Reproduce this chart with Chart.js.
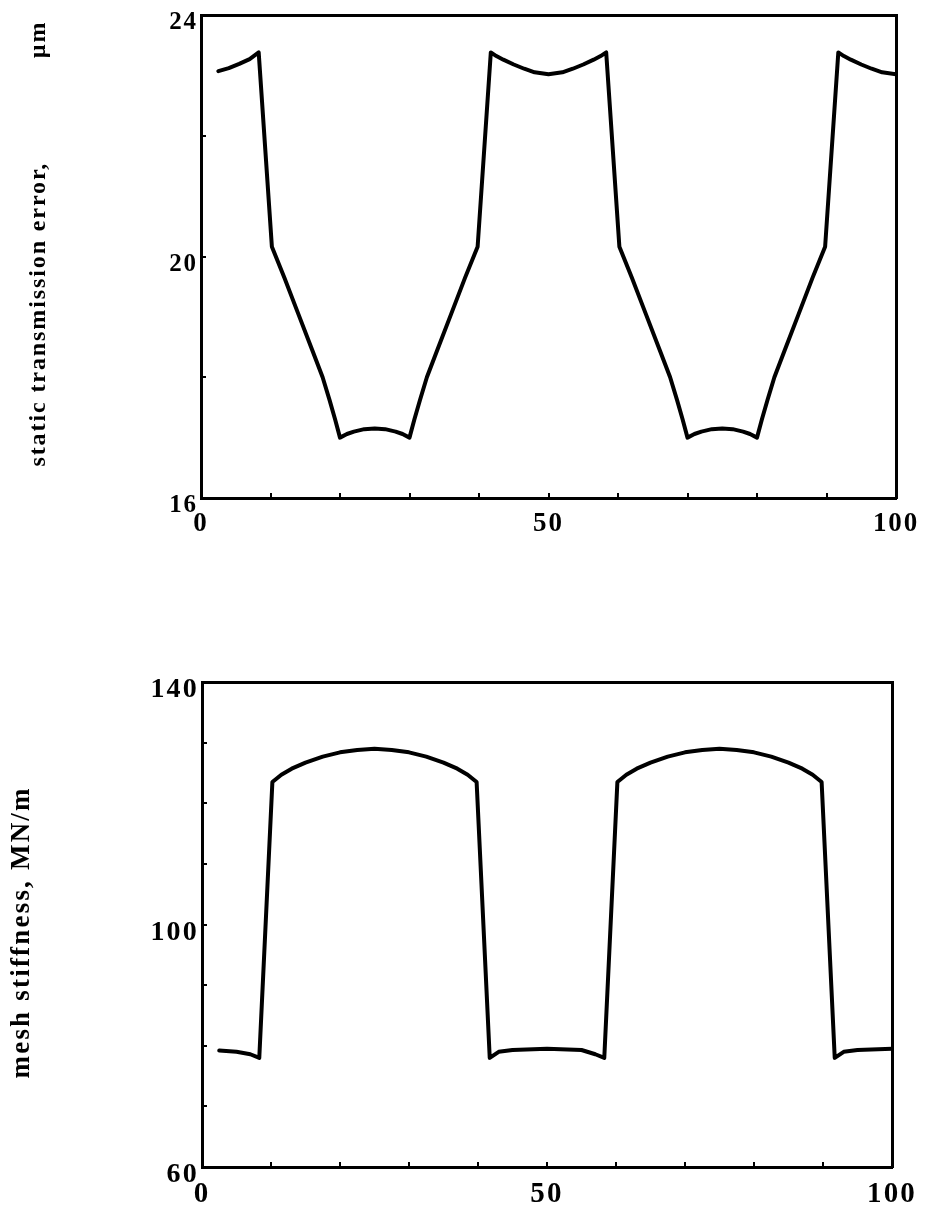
<!DOCTYPE html>
<html>
<head>
<meta charset="utf-8">
<script src="https://cdn.jsdelivr.net/npm/chart.js@4/dist/chart.umd.min.js"></script>
<style>
  html, body { margin: 0; padding: 0; background: #fff; }
  #wrap { position: relative; width: 927px; height: 1215px; overflow: hidden; background: #fff; }
  canvas { position: absolute; left: 0; }
</style>
</head>
<body>
<div id="wrap">
  <canvas id="c1" width="932" height="600" style="top:-9px"></canvas>
  <canvas id="c2" width="929" height="595" style="top:620px"></canvas>
</div>
<script>
// ---- data ----
// top panel: static transmission error (µm) vs. x
const steX = [2.5, 4.0, 5.5, 7.0, 8.3, 10.2, 12.0, 14.0, 16.0, 17.5, 18.5, 19.3, 20.0, 21.0, 22.0, 23.5, 25.0, 26.5, 28.0, 29.0, 30.0, 30.7, 31.5, 32.5, 34.0, 36.0, 38.0, 39.8,
              41.7, 42.5, 43.5, 45.0, 46.5, 48.0, 50.0, 52.0, 53.5, 55.0, 56.5, 57.5, 58.3,
              60.2, 62.0, 64.0, 66.0, 67.5, 68.5, 69.3, 70.0, 71.0, 72.0, 73.5, 75.0, 76.5, 78.0, 79.0, 80.0, 80.7, 81.5, 82.5, 84.0, 86.0, 88.0, 89.8,
              91.7, 92.5, 93.5, 95.0, 96.5, 98.0, 100.0];
const steY = [23.07, 23.12, 23.19, 23.27, 23.38, 20.16, 19.65, 19.05, 18.45, 18.00, 17.62, 17.30, 17.00, 17.06, 17.10, 17.14, 17.15, 17.14, 17.10, 17.06, 17.00, 17.30, 17.62, 18.00, 18.45, 19.05, 19.65, 20.16,
              23.38, 23.32, 23.26, 23.18, 23.11, 23.05, 23.02, 23.05, 23.11, 23.18, 23.26, 23.32, 23.38,
              20.16, 19.65, 19.05, 18.45, 18.00, 17.62, 17.30, 17.00, 17.06, 17.10, 17.14, 17.15, 17.14, 17.10, 17.06, 17.00, 17.30, 17.62, 18.00, 18.45, 19.05, 19.65, 20.16,
              23.38, 23.32, 23.26, 23.18, 23.11, 23.05, 23.02];

// bottom panel: mesh stiffness (MN/m) vs. x
const kX = [2.5, 5.0, 7.0, 8.3, 10.2, 11.5, 13.0, 15.0, 17.5, 20.0, 22.5, 25.0, 27.5, 30.0, 32.5, 35.0, 37.0, 38.5, 39.8,
            41.7, 43.0, 45.0, 50.0, 55.0, 57.0, 58.3,
            60.2, 61.5, 63.0, 65.0, 67.5, 70.0, 72.5, 75.0, 77.5, 80.0, 82.5, 85.0, 87.0, 88.5, 89.8,
            91.7, 93.0, 95.0, 100.0];
const kY = [79.2, 79.0, 78.6, 78.0, 123.5, 124.7, 125.7, 126.7, 127.7, 128.4, 128.8, 129.0, 128.8, 128.4, 127.7, 126.7, 125.7, 124.7, 123.5,
            78.0, 79.0, 79.3, 79.5, 79.3, 78.6, 78.0,
            123.5, 124.7, 125.7, 126.7, 127.7, 128.4, 128.8, 129.0, 128.8, 128.4, 127.7, 126.7, 125.7, 124.7, 123.5,
            78.0, 79.0, 79.3, 79.5];

const xTickLabels = [0, 50, 100];
const steTickLabels = [16, 20, 24];
const kTickLabels = [60, 100, 140];

const steTitle = '\u2003static transmission error,\u2003\u2003\u2003\u2003\u00b5m';
const kTitle = 'mesh stiffness, MN/m\u2002';

// ---- helpers ----
const FAMILY = "'Liberation Serif', 'Times New Roman', serif";
const pts = (xs, ys) => xs.map((x, i) => ({ x: x, y: ys[i] }));

function makeChart(id, xs, ys, cfg) {
  return new Chart(document.getElementById(id), {
    type: 'line',
    data: {
      datasets: [{
        data: pts(xs, ys),
        borderColor: '#000',
        borderWidth: 4,
        pointRadius: 0,
        tension: 0,
        fill: false,
        borderJoinStyle: 'round',
        borderCapStyle: 'round'
      }]
    },
    plugins: [{
      id: 'textSpacing',
      beforeDraw(chart) { chart.ctx.letterSpacing = cfg.spacing; }
    }],
    options: {
      responsive: false,
      animation: false,
      devicePixelRatio: 1,
      layout: { padding: cfg.padding },
      plugins: { legend: { display: false }, tooltip: { enabled: false } },
      scales: {
        x: {
          type: 'linear', position: 'bottom', min: 0, max: 100,
          afterFit: s => { s.height = cfg.xAxisH; },
          border: { display: true, color: '#000', width: 3 },
          grid: { display: true, drawOnChartArea: false, drawTicks: true, tickLength: -5, color: '#000', lineWidth: 2 },
          ticks: {
            stepSize: 10, autoSkip: false, maxRotation: 0, padding: cfg.xPad, color: '#000',
            font: { family: FAMILY, size: cfg.xFont, weight: 'bold' },
            callback: v => xTickLabels.includes(v) ? String(v) : ''
          }
        },
        x2: {
          type: 'linear', axis: 'x', position: 'top', min: 0, max: 100,
          afterFit: s => { s.height = 0; },
          border: { display: true, color: '#000', width: 3 },
          grid: { display: false, drawTicks: false },
          ticks: { display: false }
        },
        y: {
          type: 'linear', position: 'left', min: cfg.yMin, max: cfg.yMax,
          afterFit: s => { s.width = cfg.yAxisW; },
          border: { display: true, color: '#000', width: 3 },
          grid: { display: true, drawOnChartArea: false, drawTicks: true, tickLength: -5, color: '#000', lineWidth: 2 },
          ticks: {
            stepSize: cfg.yStep, autoSkip: false, padding: 8, labelOffset: cfg.yLabelOffset, color: '#000',
            font: { family: FAMILY, size: cfg.yFont, weight: 'bold' },
            callback: v => cfg.yLabels.includes(v) ? String(v) : ''
          },
          title: {
            display: true, text: cfg.title, color: '#000',
            font: { family: FAMILY, size: cfg.titleFont, weight: 'bold' },
            padding: { top: cfg.titlePad, bottom: 0 }
          }
        },
        y2: {
          type: 'linear', axis: 'y', position: 'right', min: cfg.yMin, max: cfg.yMax,
          afterFit: s => { s.width = 0; },
          border: { display: true, color: '#000', width: 3 },
          grid: { display: false, drawTicks: false },
          ticks: { display: false }
        }
      }
    }
  });
}

makeChart('c1', steX, steY, {
  padding: { left: 0, right: 36, top: 24, bottom: 0 },
  xAxisH: 93, yAxisW: 201, yMin: 16, yMax: 24, yStep: 2,
  yLabels: steTickLabels, xFont: 27, yFont: 25, xPad: 15, yLabelOffset: 8,
  title: steTitle, titleFont: 24, titlePad: 24, spacing: '1.9px'
});

makeChart('c2', kX, kY, {
  padding: { left: 0, right: 37, top: 62, bottom: 0 },
  xAxisH: 48, yAxisW: 202, yMin: 60, yMax: 140, yStep: 10,
  yLabels: kTickLabels, xFont: 29, yFont: 28, xPad: 15, yLabelOffset: 8,
  title: kTitle, titleFont: 27, titlePad: 6, spacing: '2.2px'
});
</script>
</body>
</html>
